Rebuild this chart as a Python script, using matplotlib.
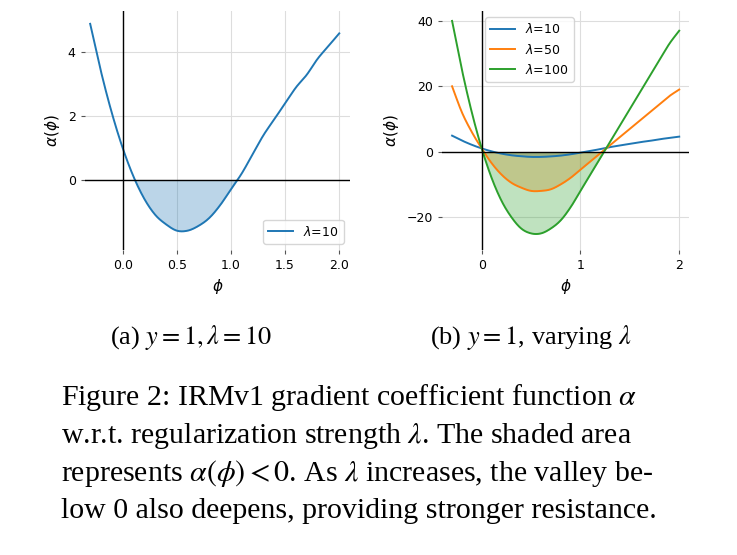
import numpy as np
import matplotlib

matplotlib.use("Agg")
import matplotlib.pyplot as plt

# values, phi step 0.1
phi = [-0.3, -0.2, -0.1, 0.0, 0.1, 0.2, 0.3, 0.4, 0.5, 0.6, 0.7, 0.8,
       0.9, 1.0, 1.1, 1.2, 1.3, 1.4, 1.5, 1.6, 1.7, 1.8, 1.9, 2.0]
alpha_10 = [4.9, 3.4, 2.1, 1.0, 0.1, -0.6, -1.1, -1.4, -1.6, -1.6, -1.45, -1.2,
            -0.8, -0.3, 0.2, 0.8, 1.4, 1.9, 2.4, 2.9, 3.3, 3.8, 4.2, 4.6]
alpha_50 = [20, 12, 6, 1, -3.5, -7, -9.5, -11, -12, -12, -11.5, -10,
            -8, -5.5, -3, -0.5, 2, 4.5, 7, 9.5, 12, 14.5, 17, 19]
alpha_100 = [40, 25, 12, 1, -8, -15, -20, -23.5, -25, -25, -23.5, -21,
             -17, -12, -7, -2, 3, 8, 13, 18, 23, 28, 33, 37]

series = [("$\\lambda$=10", alpha_10, "#1f77b4"),
          ("$\\lambda$=50", alpha_50, "#ff7f0e"),
          ("$\\lambda$=100", alpha_100, "#2ca02c")]

plt.rcParams["mathtext.fontset"] = "dejavusans"


def smooth(xs, ys, n=20):
    # cubic Hermite (Catmull-Rom) between the read points, for drawing only
    xs = np.asarray(xs, float)
    ys = np.asarray(ys, float)
    m = np.gradient(ys, xs)
    out_x, out_y = [], []
    for i in range(len(xs) - 1):
        h = xs[i + 1] - xs[i]
        t = np.linspace(0, 1, n, endpoint=False)
        h00 = 2 * t**3 - 3 * t**2 + 1
        h10 = t**3 - 2 * t**2 + t
        h01 = -2 * t**3 + 3 * t**2
        h11 = t**3 - t**2
        out_x.append(xs[i] + t * h)
        out_y.append(h00 * ys[i] + h10 * h * m[i] + h01 * ys[i + 1] + h11 * h * m[i + 1])
    out_x.append([xs[-1]])
    out_y.append([ys[-1]])
    return np.concatenate(out_x), np.concatenate(out_y)


fig = plt.figure(figsize=(7.37, 5.55), dpi=100)
ax1 = fig.add_axes([0.115, 0.55, 0.36, 0.43])
ax2 = fig.add_axes([0.6, 0.55, 0.335, 0.43])


def style(ax):
    for s in ax.spines.values():
        s.set_visible(False)
    ax.grid(True, color="#dddddd", linewidth=0.8)
    ax.set_axisbelow(True)
    ax.axhline(0, color="black", linewidth=1)
    ax.axvline(0, color="black", linewidth=1)
    ax.tick_params(length=3, color="#555555", labelsize=9)
    ax.set_xlabel("$\\phi$", fontsize=11)
    ax.set_ylabel("$\\alpha(\\phi)$", fontsize=11)


x, y = smooth(phi, alpha_10)
ax1.plot(x, y, color="#1f77b4", label="$\\lambda$=10", linewidth=1.4)
ax1.fill_between(x, y, 0, where=y < 0, interpolate=True, color="#1f77b4", alpha=0.3, linewidth=0)
style(ax1)
ax1.set_xlim(-0.35, 2.1)
ax1.set_ylim(-2.2, 5.3)
ax1.set_yticks([0, 2, 4])
ax1.set_xticks([0.0, 0.5, 1.0, 1.5, 2.0])
ax1.legend(loc="lower right", fontsize=9)

for label, vals, c in series:
    x, y = smooth(phi, vals)
    ax2.plot(x, y, color=c, label=label, linewidth=1.4)
    ax2.fill_between(x, y, 0, where=y < 0, interpolate=True, color=c, alpha=0.3, linewidth=0)
style(ax2)
ax2.set_xlim(-0.4, 2.1)
ax2.set_ylim(-30, 43)
ax2.set_yticks([-20, 0, 20, 40])
ax2.set_xticks([0, 1, 2])
ax2.legend(loc="upper left", bbox_to_anchor=(0.15, 1.0), fontsize=9)

serif = dict(family="Liberation Serif", math_fontfamily="stix")
fig.text(0.26, 0.38, "(a) $y = 1, \\lambda = 10$", ha="center", fontsize=19, **serif)
fig.text(0.72, 0.38, "(b) $y = 1$, varying $\\lambda$", ha="center", fontsize=19, **serif)

lines = [
    "Figure 2: IRMv1 gradient coefficient function $\\alpha$",
    "w.r.t. regularization strength $\\lambda$. The shaded area",
    "represents $\\alpha(\\phi) < 0$. As $\\lambda$ increases, the valley be-",
    "low 0 also deepens, providing stronger resistance.",
]
for i, t in enumerate(lines):
    fig.text(0.083, 0.27 - i * 0.068, t, ha="left", fontsize=21.5, **serif)

fig.savefig("out.png", dpi=100)
